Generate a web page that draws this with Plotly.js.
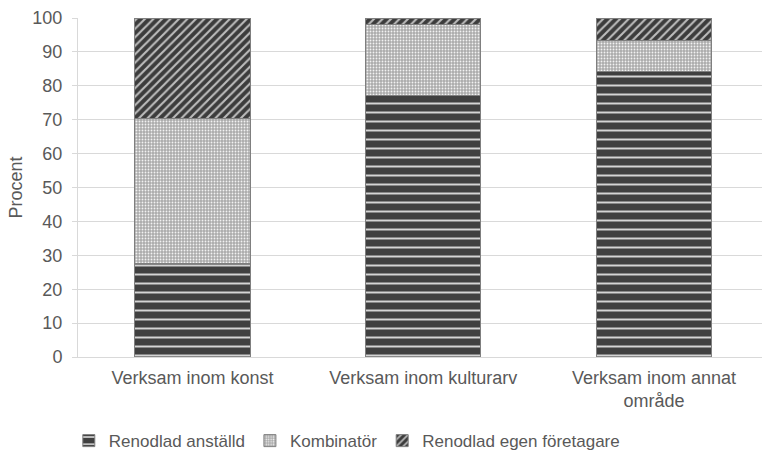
<!DOCTYPE html>
<html><head><meta charset="utf-8">
<script src="https://cdn.plot.ly/plotly-3.0.1.min.js"></script>
<style>html,body{margin:0;padding:0;background:#fff}#chart{width:762px;height:460px}</style>
</head><body><div id="chart"></div>
<script>
const categories = ["Verksam inom konst", "Verksam inom kulturarv", "Verksam inom annat<br>område"];
const seriesNames = ["Renodlad anställd", "Kombinatör", "Renodlad egen företagare"];
const anstalld = [27.5, 77, 84.3];
const kombinator = [43, 21, 9.2];
const foretagare = [29.5, 2, 6.5];
const yTicks = [0, 10, 20, 30, 40, 50, 60, 70, 80, 90, 100];

const font = {family: "Liberation Sans, Arial, sans-serif", size: 18, color: "#595959"};
const legendFont = {family: "Liberation Sans, Arial, sans-serif", size: 17, color: "#595959"};
const lineStyle = {color: "#7f7f7f", width: 1};

const traces = [
  {name: seriesNames[0], values: anstalld,
   pattern: {shape: "-", size: 9, solidity: 0.22, fgcolor: "#d4d4d4", bgcolor: "#404040", fillmode: "replace"}},
  {name: seriesNames[1], values: kombinator,
   pattern: {shape: ".", size: 3, solidity: 0.3, fgcolor: "#f2f2f2", bgcolor: "#ababab", fillmode: "replace"}},
  {name: seriesNames[2], values: foretagare,
   pattern: {shape: "/", size: 6, solidity: 0.35, fgcolor: "#bdbdbd", bgcolor: "#3c3c3c", fillmode: "replace"}}
].map(s => ({
  type: "bar", name: s.name, x: categories, y: s.values, width: 0.5,
  marker: {color: s.pattern.bgcolor, pattern: s.pattern, line: lineStyle},
  hoverinfo: "none"
}));

const layout = {
  width: 762, height: 460,
  margin: {l: 78, r: 0, t: 18, b: 103},
  barmode: "stack",
  font: font,
  paper_bgcolor: "#ffffff", plot_bgcolor: "#ffffff",
  xaxis: {type: "category", range: [-0.496, 2.468], showgrid: false, showline: true,
          linecolor: "#d9d9d9", linewidth: 1, ticks: "", tickfont: font, zeroline: false,
          ticklabelstandoff: 4},
  yaxis: {range: [0, 100], tickvals: yTicks, showgrid: true, gridcolor: "#d9d9d9", gridwidth: 1,
          showline: true, linecolor: "#d9d9d9", ticks: "outside", ticklen: 5, tickcolor: "#d9d9d9",
          tickfont: font, zeroline: false, ticklabelstandoff: 6,
          title: {text: "Procent", font: font, standoff: 5}},
  showlegend: true,
  legend: {orientation: "h", x: 0.393, xanchor: "center", y: -0.248, yanchor: "middle",
           font: legendFont, traceorder: "normal", itemwidth: 30},
  bargap: 0.5
};

Plotly.newPlot("chart", traces, layout, {staticPlot: true, displayModeBar: false});
</script></body></html>
